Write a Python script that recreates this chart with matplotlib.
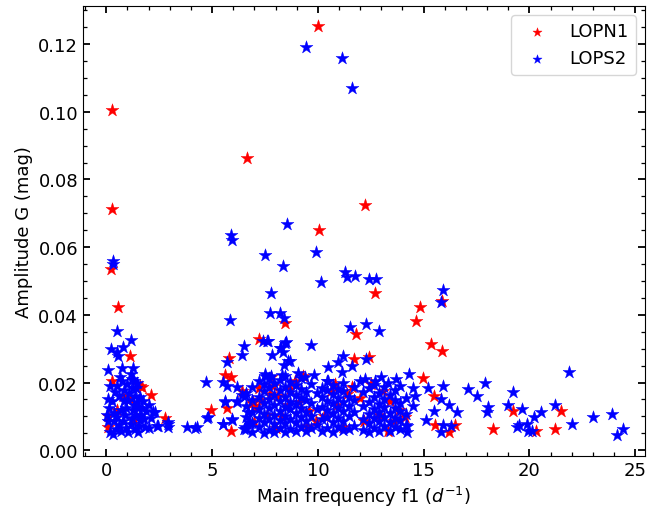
import numpy as np
import matplotlib.pyplot as plt
from matplotlib.ticker import MultipleLocator

# LOPN1 stars: main frequency (1/d) and G amplitude (mag)
lopn1_f1 = [0.28, 0.25, 0.24, 0.57, 1.13, 0.28, 1.70, 2.10, 1.13, 2.80, 0.10, 0.10, 1.60, 0.50, 1.30, 0.80,
            6.66, 10.03, 10.07, 12.24, 12.70, 14.85, 14.65, 15.36, 15.88, 15.85, 8.46, 11.80, 7.20, 5.80,
            5.60, 5.88, 4.95, 5.70, 5.90, 6.95, 7.05, 7.20, 7.90, 7.75, 7.00, 7.80, 8.10, 6.40, 11.70,
            12.40, 11.60, 9.30, 10.90, 9.60, 10.30, 12.20, 8.70, 14.95, 15.50, 15.55, 16.20, 16.50, 13.30,
            13.85, 19.20, 18.30, 21.50, 21.20, 20.30,
            7.10, 6.90, 7.30, 8.30, 8.90, 9.10, 9.90, 10.60, 11.20, 11.40, 12.50, 12.90, 13.40, 13.60,
            8.00, 9.50, 10.80, 12.00, 13.10, 7.60, 8.60, 14.10]
lopn1_amp = [0.1004, 0.0712, 0.0535, 0.0424, 0.0279, 0.0205, 0.0187, 0.0164, 0.0152, 0.0094, 0.0068, 0.0102,
             0.0190, 0.0120, 0.0090, 0.0160,
             0.0862, 0.1252, 0.0650, 0.0724, 0.0464, 0.0423, 0.0382, 0.0314, 0.0293, 0.0440, 0.0376, 0.0343,
             0.0328, 0.0273, 0.0223, 0.0215, 0.0118, 0.0125, 0.0057, 0.0143, 0.0131, 0.0183, 0.0190, 0.0166,
             0.0084, 0.0216, 0.0160, 0.0175, 0.0270, 0.0274, 0.0188, 0.0220, 0.0134, 0.0116, 0.0102, 0.0086,
             0.0180, 0.0214, 0.0160, 0.0075, 0.0054, 0.0075, 0.0057, 0.0120, 0.0115, 0.0064, 0.0117, 0.0064,
             0.0057,
             0.0125, 0.0138, 0.0147, 0.0098, 0.0205, 0.0142, 0.0085, 0.0175, 0.0070, 0.0165, 0.0195, 0.0105,
             0.0145, 0.0085, 0.0065, 0.0072, 0.0195, 0.0155, 0.0175, 0.0105, 0.0135, 0.0098]

# LOPS2 stars, listed as (f1, amplitude) pairs
lops2_pairs = [
    # bright outliers
    (9.45, 0.1190), (11.15, 0.1160), (11.60, 0.1070), (0.30, 0.0558), (0.32, 0.0550), (5.90, 0.0637),
    (5.95, 0.0620), (8.55, 0.0667), (9.90, 0.0585), (7.50, 0.0576), (8.35, 0.0544), (10.15, 0.0497),
    (11.30, 0.0527), (11.40, 0.0512), (11.75, 0.0514), (12.40, 0.0505), (12.75, 0.0505), (15.90, 0.0473),
    (15.80, 0.0438), (7.80, 0.0463), (5.86, 0.0385), (7.75, 0.0406), (8.20, 0.0406), (8.40, 0.0390),
    (9.70, 0.0311), (11.50, 0.0365), (12.30, 0.0373), (12.90, 0.0352), (7.85, 0.0282), (8.20, 0.0302),
    (8.35, 0.0290), (8.45, 0.0317), (8.40, 0.0251), (8.60, 0.0264), (7.40, 0.0323), (7.60, 0.0323),
    (6.50, 0.0308), (6.40, 0.0281), (5.70, 0.0260), (5.50, 0.0202), (5.70, 0.0190), (4.70, 0.0202),
    (4.77, 0.0096), (5.60, 0.0143), (5.50, 0.0078), (5.95, 0.0090), (6.20, 0.0143), (6.40, 0.0164),
    (6.50, 0.0063), (6.75, 0.0083), (3.80, 0.0069), (4.20, 0.0066), (2.90, 0.0069), (2.45, 0.0072),
    (2.00, 0.0066), (2.30, 0.0113), (2.90, 0.0083), (7.50, 0.0220),
    # low-frequency group
    (0.10, 0.0237), (0.75, 0.0243), (1.28, 0.0243), (1.20, 0.0210), (0.52, 0.0190), (0.76, 0.0205),
    (0.24, 0.0299), (0.52, 0.0290), (0.55, 0.0279), (0.80, 0.0305), (1.18, 0.0325), (0.52, 0.0353),
    (0.10, 0.0152), (0.15, 0.0125), (0.10, 0.0085), (0.20, 0.0055), (0.30, 0.0048), (0.45, 0.0062),
    (0.60, 0.0075), (0.50, 0.0098), (0.35, 0.0110), (0.70, 0.0120), (0.25, 0.0145), (0.40, 0.0172),
    (0.60, 0.0160), (0.85, 0.0145), (0.90, 0.0105), (0.80, 0.0085), (0.95, 0.0065), (1.05, 0.0055),
    (1.15, 0.0078), (1.20, 0.0095), (1.25, 0.0118), (1.30, 0.0135), (1.35, 0.0160), (1.40, 0.0185),
    (1.45, 0.0200), (1.50, 0.0054), (1.55, 0.0072), (1.60, 0.0088), (1.65, 0.0105), (1.70, 0.0125),
    (1.75, 0.0145), (1.80, 0.0092), (1.85, 0.0068), (1.90, 0.0115), (2.00, 0.0135), (2.10, 0.0095),
    (1.10, 0.0170), (1.00, 0.0195), (1.15, 0.0225), (1.30, 0.0205), (1.25, 0.0185), (0.95, 0.0125),
    (1.05, 0.0148), (0.65, 0.0215), (0.20, 0.0190), (0.35, 0.0085), (0.05, 0.0105), (1.40, 0.0105),
    (1.50, 0.0125), (1.45, 0.0142), (1.60, 0.0158), (0.70, 0.0058), (1.35, 0.0062), (2.20, 0.0113),
    (2.40, 0.0072), (2.90, 0.0078), (0.85, 0.0178),
    # middle group, upper fringe
    (11.20, 0.0279), (10.95, 0.0261), (10.50, 0.0246), (11.60, 0.0250), (11.15, 0.0232), (12.30, 0.0270),
    (8.70, 0.0264), (12.25, 0.0211), (9.80, 0.0223), (12.70, 0.0205), (10.50, 0.0205), (6.20, 0.0187),
    (5.60, 0.0146), (6.20, 0.0146), (6.55, 0.0161), (6.70, 0.0113), (5.53, 0.0078), (5.95, 0.0093),
    (4.82, 0.0099), (4.30, 0.0069), (6.57, 0.0069), (6.80, 0.0081), (7.65, 0.0323), (8.27, 0.0302),
    (8.50, 0.0320), (7.50, 0.0225), (7.80, 0.0218), (8.30, 0.0222), (9.05, 0.0228), (9.40, 0.0215),
    (13.00, 0.0215), (13.30, 0.0200), (12.00, 0.0205),
    # middle group, dense core 6.5-9.7
    (6.60, 0.0062), (6.60, 0.0098), (6.60, 0.0131), (6.60, 0.0168),
    (6.90, 0.0055), (6.90, 0.0079), (6.90, 0.0112), (6.90, 0.0149), (6.90, 0.0186),
    (7.20, 0.0068), (7.20, 0.0094), (7.20, 0.0121), (7.20, 0.0158), (7.20, 0.0203),
    (7.45, 0.0052), (7.45, 0.0083), (7.45, 0.0108), (7.45, 0.0139), (7.45, 0.0176), (7.45, 0.0195),
    (7.70, 0.0061), (7.70, 0.0092), (7.70, 0.0125), (7.70, 0.0152), (7.70, 0.0188), (7.70, 0.0214),
    (7.95, 0.0054), (7.95, 0.0078), (7.95, 0.0104), (7.95, 0.0133), (7.95, 0.0163), (7.95, 0.0199),
    (8.20, 0.0066), (8.20, 0.0089), (8.20, 0.0117), (8.20, 0.0146), (8.20, 0.0178), (8.20, 0.0208),
    (8.45, 0.0053), (8.45, 0.0081), (8.45, 0.0102), (8.45, 0.0128), (8.45, 0.0157), (8.45, 0.0186),
    (8.45, 0.0219),
    (8.70, 0.0064), (8.70, 0.0093), (8.70, 0.0121), (8.70, 0.0142), (8.70, 0.0171), (8.70, 0.0201),
    (8.95, 0.0056), (8.95, 0.0084), (8.95, 0.0109), (8.95, 0.0136), (8.95, 0.0163), (8.95, 0.0192),
    (9.20, 0.0069), (9.20, 0.0097), (9.20, 0.0125), (9.20, 0.0154), (9.20, 0.0181), (9.20, 0.0212),
    (9.45, 0.0058), (9.45, 0.0087), (9.45, 0.0113), (9.45, 0.0147), (9.45, 0.0172),
    (9.70, 0.0066), (9.70, 0.0101), (9.70, 0.0138), (9.70, 0.0195),
    # 9.9-11.7
    (9.95, 0.0075), (9.95, 0.0122), (9.95, 0.0168),
    (10.20, 0.0057), (10.20, 0.0091), (10.20, 0.0129), (10.20, 0.0158), (10.20, 0.0185),
    (10.45, 0.0066), (10.45, 0.0098), (10.45, 0.0119), (10.45, 0.0146), (10.45, 0.0177), (10.45, 0.0205),
    (10.70, 0.0054), (10.70, 0.0083), (10.70, 0.0111), (10.70, 0.0139), (10.70, 0.0165), (10.70, 0.0192),
    (10.95, 0.0068), (10.95, 0.0095), (10.95, 0.0124), (10.95, 0.0153), (10.95, 0.0182),
    (11.20, 0.0059), (11.20, 0.0087), (11.20, 0.0116), (11.20, 0.0143), (11.20, 0.0174), (11.20, 0.0198),
    (11.45, 0.0064), (11.45, 0.0102), (11.45, 0.0131), (11.45, 0.0158),
    (11.70, 0.0072), (11.70, 0.0113), (11.70, 0.0149), (11.70, 0.0187),
    # 12.1-14.2
    (12.15, 0.0061), (12.15, 0.0092), (12.15, 0.0132), (12.15, 0.0172),
    (12.40, 0.0055), (12.40, 0.0079), (12.40, 0.0108), (12.40, 0.0141), (12.40, 0.0185),
    (12.65, 0.0067), (12.65, 0.0096), (12.65, 0.0123), (12.65, 0.0158), (12.65, 0.0193),
    (12.90, 0.0058), (12.90, 0.0085), (12.90, 0.0114), (12.90, 0.0137), (12.90, 0.0169),
    (13.15, 0.0071), (13.15, 0.0099), (13.15, 0.0128), (13.15, 0.0152), (13.15, 0.0186),
    (13.40, 0.0056), (13.40, 0.0082), (13.40, 0.0111), (13.40, 0.0163),
    (13.65, 0.0069), (13.65, 0.0094), (13.65, 0.0124), (13.65, 0.0147), (13.65, 0.0178),
    (13.90, 0.0062), (13.90, 0.0088), (13.90, 0.0116), (13.90, 0.0139),
    (14.15, 0.0074), (14.15, 0.0107), (14.15, 0.0155),
    # high-frequency tail
    (14.30, 0.0226), (14.50, 0.0184), (13.70, 0.0211), (13.90, 0.0190), (14.60, 0.0161), (14.50, 0.0131),
    (15.20, 0.0184), (15.90, 0.0190), (15.80, 0.0152), (16.20, 0.0134), (15.50, 0.0117), (16.60, 0.0113),
    (15.10, 0.0089), (17.10, 0.0180), (15.90, 0.0075), (15.80, 0.0054), (16.30, 0.0072), (14.20, 0.0054),
    (14.20, 0.0072), (17.50, 0.0160), (17.90, 0.0198), (18.05, 0.0128), (18.00, 0.0114), (19.00, 0.0134),
    (19.20, 0.0172), (19.65, 0.0122), (19.40, 0.0069), (19.50, 0.0075), (19.90, 0.0078), (19.95, 0.0057),
    (20.10, 0.0057), (20.20, 0.0099), (20.55, 0.0114), (21.20, 0.0134), (21.85, 0.0231), (22.00, 0.0076),
    (23.00, 0.0099), (23.90, 0.0106), (24.15, 0.0044), (24.40, 0.0062),
]
lops2_f1 = [p[0] for p in lops2_pairs]
lops2_amp = [p[1] for p in lops2_pairs]

fig = plt.figure(figsize=(6.48, 5.10), dpi=100)
ax = fig.add_axes([0.128, 0.104, 0.867, 0.882])

ax.scatter(lopn1_f1, lopn1_amp, marker='*', s=95, color='r', edgecolors='r', linewidths=0.3, label='LOPN1')
ax.scatter(lops2_f1, lops2_amp, marker='*', s=95, color='b', edgecolors='b', linewidths=0.3, label='LOPS2')

ax.set_xlim(-1.1, 25.45)
ax.set_ylim(-0.0017, 0.1312)
ax.xaxis.set_major_locator(MultipleLocator(5))
ax.xaxis.set_minor_locator(MultipleLocator(1))
ax.yaxis.set_major_locator(MultipleLocator(0.02))
ax.yaxis.set_minor_locator(MultipleLocator(0.005))
ax.tick_params(which='both', direction='in', top=True, right=True, labelsize=13)
ax.tick_params(which='major', length=5, width=1.3)
ax.tick_params(which='minor', length=3, width=0.9)

ax.set_xlabel('Main frequency f1 ($d^{-1}$)', fontsize=13)
ax.set_ylabel('Amplitude G (mag)', fontsize=13)
ax.legend(loc='upper right', fontsize=13, markerscale=0.7)

plt.savefig('out.png', dpi=100)
